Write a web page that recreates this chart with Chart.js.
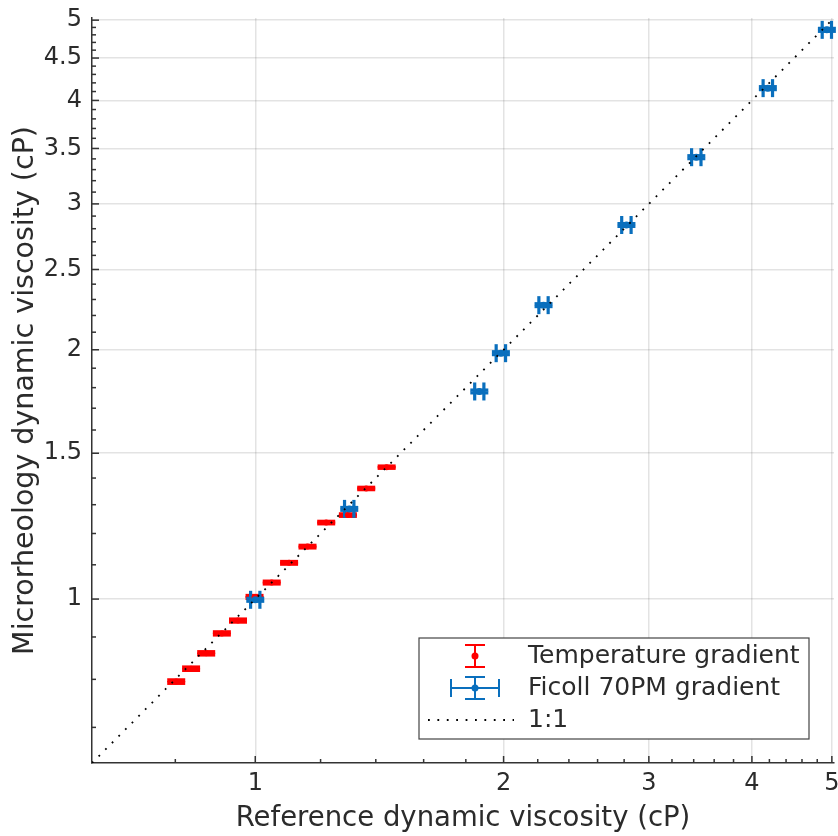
<!DOCTYPE html>
<html>
<head>
<meta charset="utf-8">
<script src="https://cdn.jsdelivr.net/npm/chart.js@4"></script>
<style>
html, body { margin: 0; padding: 0; background: #fff; }
</style>
</head>
<body>
<canvas id="myChart" width="838" height="836"></canvas>
<script>
// temperature gradient series (red)
var tempX = [0.802, 0.836, 0.872, 0.911, 0.953, 0.998, 1.047, 1.099, 1.157, 1.219, 1.295, 1.363, 1.443];
var tempY = [0.795, 0.824, 0.860, 0.909, 0.942, 1.006, 1.047, 1.106, 1.157, 1.237, 1.263, 1.360, 1.443];
var tempYErr = [0.003, 0.003, 0.003, 0.003, 0.003, 0.003, 0.003, 0.003, 0.003, 0.003, 0.003, 0.003, 0.003];

// Ficoll 70PM gradient series (blue)
var ficollX = [1.000, 1.300, 1.869, 1.985, 2.236, 2.818, 3.425, 4.182, 4.931];
var ficollY = [0.998, 1.285, 1.781, 1.981, 2.264, 2.829, 3.416, 4.139, 4.867];
var ficollXErr = [0.013, 0.017, 0.024, 0.026, 0.029, 0.037, 0.045, 0.055, 0.064];
var ficollYErr = [0.004, 0.005, 0.007, 0.008, 0.009, 0.011, 0.014, 0.017, 0.020];

// 1:1 line end points
var unityX = [0.634, 5.03];

// axis ranges and ticks
var axisMin = 0.634;
var axisMax = 5.03;
var xTicks = [1, 2, 3, 4, 5];
var yTicks = [1, 1.5, 2, 2.5, 3, 3.5, 4, 4.5, 5];
var xMinor = [0.8, 1.2, 1.4, 1.6, 1.8, 2.2, 2.4, 2.6, 2.8, 3.2, 3.4, 3.6, 3.8, 4.2, 4.4, 4.6, 4.8];
var yMinor = [0.7, 0.8, 0.9, 1.1, 1.2, 1.3, 1.4, 1.6, 1.7, 1.8, 1.9, 2.1, 2.2, 2.3, 2.4, 2.6, 2.7, 2.8, 2.9,
              3.1, 3.2, 3.3, 3.4, 3.6, 3.7, 3.8, 3.9, 4.1, 4.2, 4.3, 4.4, 4.6, 4.7, 4.8, 4.9];

var RED = '#ff0000';
var BLUE = '#0a6fbd';
var TEXT = '#2b2b2b';
var FONT = 'DejaVu Sans';

function ToPoints (_xs, _ys)
{
    var pts = [];
    for (var i = 0; i < _xs.length; i++)
    {
        pts.push({ x: _xs[i], y: _ys[i] });
    }
    return pts;
}

function Line (ctx, x1, y1, x2, y2)
{
    ctx.beginPath();
    ctx.moveTo(x1, y1);
    ctx.lineTo(x2, y2);
    ctx.stroke();
}

const CAP = 9;

// error bars drawn under the markers
const errorBars =
{
    id: 'errorBars',
    beforeDatasetsDraw (chart)
    {
        const ctx = chart.ctx;
        const xs = chart.scales.x;
        const ys = chart.scales.y;
        chart.data.datasets.forEach(ds => {
            if (!ds.errX && !ds.errY) return;
            ctx.save();
            ctx.strokeStyle = ds.borderColor;
            ctx.lineWidth = ds.errWidth;
            ds.data.forEach((p, i) => {
                const px = xs.getPixelForValue(p.x);
                const py = ys.getPixelForValue(p.y);
                if (ds.errY)
                {
                    const y1 = ys.getPixelForValue(p.y - ds.errY[i]);
                    const y2 = ys.getPixelForValue(p.y + ds.errY[i]);
                    Line(ctx, px, y1, px, y2);
                    Line(ctx, px - CAP, y1, px + CAP, y1);
                    Line(ctx, px - CAP, y2, px + CAP, y2);
                }
                if (ds.errX)
                {
                    const x1 = xs.getPixelForValue(p.x - ds.errX[i]);
                    const x2 = xs.getPixelForValue(p.x + ds.errX[i]);
                    Line(ctx, x1, py, x2, py);
                    Line(ctx, x1, py - CAP, x1, py + CAP);
                    Line(ctx, x2, py - CAP, x2, py + CAP);
                }
            });
            ctx.restore();
        });
    }
};

// inward tick marks + legend box
const decorations =
{
    id: 'decorations',
    afterDraw (chart)
    {
        const ctx = chart.ctx;
        const xs = chart.scales.x;
        const ys = chart.scales.y;
        const area = chart.chartArea;
        ctx.save();
        ctx.strokeStyle = '#333';
        ctx.lineWidth = 1.5;
        xTicks.forEach(v => { const p = xs.getPixelForValue(v); Line(ctx, p, area.bottom, p, area.bottom - 7); });
        xMinor.forEach(v => { const p = xs.getPixelForValue(v); Line(ctx, p, area.bottom, p, area.bottom - 4); });
        yTicks.forEach(v => { const p = ys.getPixelForValue(v); Line(ctx, area.left, p, area.left + 7, p); });
        yMinor.forEach(v => { const p = ys.getPixelForValue(v); Line(ctx, area.left, p, area.left + 4, p); });

        // legend
        const bx = 419, by = 638, bw = 390, bh = 101;
        ctx.fillStyle = '#fff';
        ctx.fillRect(bx, by, bw, bh);
        ctx.strokeStyle = '#444';
        ctx.lineWidth = 1.2;
        ctx.strokeRect(bx, by, bw, bh);

        const ix = 475;
        const rows = [656, 688, 720];
        const ds = chart.data.datasets;

        // temperature icon
        ctx.strokeStyle = RED;
        ctx.fillStyle = RED;
        ctx.lineWidth = 2;
        Line(ctx, ix, rows[0] - 11, ix, rows[0] + 11);
        Line(ctx, ix - 10, rows[0] - 11, ix + 10, rows[0] - 11);
        Line(ctx, ix - 10, rows[0] + 11, ix + 10, rows[0] + 11);
        ctx.beginPath(); ctx.arc(ix, rows[0], 3.5, 0, Math.PI * 2); ctx.fill();

        // ficoll icon
        ctx.strokeStyle = BLUE;
        ctx.fillStyle = BLUE;
        Line(ctx, ix, rows[1] - 11, ix, rows[1] + 11);
        Line(ctx, ix - 10, rows[1] - 11, ix + 10, rows[1] - 11);
        Line(ctx, ix - 10, rows[1] + 11, ix + 10, rows[1] + 11);
        Line(ctx, ix - 24, rows[1], ix + 24, rows[1]);
        Line(ctx, ix - 24, rows[1] - 9, ix - 24, rows[1] + 9);
        Line(ctx, ix + 24, rows[1] - 9, ix + 24, rows[1] + 9);
        ctx.beginPath(); ctx.arc(ix, rows[1], 3.5, 0, Math.PI * 2); ctx.fill();

        // 1:1 icon
        ctx.strokeStyle = '#000';
        ctx.lineWidth = 1.8;
        ctx.setLineDash([1.8, 7.6]);
        Line(ctx, 428, rows[2], 514, rows[2]);
        ctx.setLineDash([]);

        ctx.fillStyle = TEXT;
        ctx.font = '25px "' + FONT + '"';
        ctx.textBaseline = 'middle';
        ctx.textAlign = 'left';
        ctx.fillText(ds[1].label, 528, rows[0]);
        ctx.fillText(ds[2].label, 528, rows[1]);
        ctx.fillText(ds[0].label, 528, rows[2]);
        ctx.restore();
    }
};

DrawGraph();

function DrawGraph ()
{
    const data =
    {
        datasets:
        [
            {
                type: 'line',
                label: '1:1',
                data: ToPoints(unityX, unityX),
                borderColor: '#000',
                borderWidth: 1.8,
                borderDash: [1.8, 7.6],
                pointRadius: 0,
                fill: false,
                order: 0
            },
            {
                type: 'scatter',
                label: 'Temperature gradient',
                data: ToPoints(tempX, tempY),
                errY: tempYErr,
                errWidth: 4,
                borderColor: RED,
                backgroundColor: RED,
                pointRadius: 3,
                pointBorderWidth: 0,
                order: 2
            },
            {
                type: 'scatter',
                label: 'Ficoll 70PM gradient',
                data: ToPoints(ficollX, ficollY),
                errX: ficollXErr,
                errY: ficollYErr,
                errWidth: 3.2,
                borderColor: BLUE,
                backgroundColor: BLUE,
                pointRadius: 3.5,
                pointBorderWidth: 0,
                order: 1
            }
        ]
    };

    const gridStyle = { color: 'rgba(0,0,0,0.11)', lineWidth: 1.5, drawTicks: false };
    const borderStyle = { display: true, color: '#333', width: 1.5 };

    const config =
    {
        type: 'scatter',
        data: data,
        options:
        {
            responsive: false,
            animation: false,
            devicePixelRatio: 1,
            layout: { padding: { top: 18, right: 3.5, left: 0, bottom: 0 } },
            plugins:
            {
                legend: { display: false },
                tooltip: { enabled: false }
            },
            scales:
            {
                x:
                {
                    type: 'logarithmic',
                    bounds: 'data',
                    min: axisMin,
                    max: axisMax,
                    grid: gridStyle,
                    border: borderStyle,
                    afterBuildTicks: (scale) => { scale.ticks = xTicks.map(v => ({ value: v })); },
                    afterFit: (scale) => { scale.height = 73; scale.paddingLeft = 0; scale.paddingRight = 0; },
                    ticks:
                    {
                        color: TEXT,
                        padding: 6,
                        maxRotation: 0,
                        font: { family: FONT, size: 24 },
                        callback: (v) => String(v)
                    },
                    title:
                    {
                        display: true,
                        text: 'Reference dynamic viscosity (cP)',
                        color: TEXT,
                        font: { family: FONT, size: 27.5 },
                        padding: { top: 0, bottom: 0.5 }
                    }
                },
                y:
                {
                    type: 'logarithmic',
                    bounds: 'data',
                    min: axisMin,
                    max: axisMax,
                    grid: gridStyle,
                    border: borderStyle,
                    afterBuildTicks: (scale) => { scale.ticks = yTicks.map(v => ({ value: v })); },
                    afterFit: (scale) => { scale.width = 92; scale.paddingTop = 0; scale.paddingBottom = 0; },
                    ticks:
                    {
                        color: TEXT,
                        padding: 10,
                        font: { family: FONT, size: 24 },
                        callback: (v) => String(v)
                    },
                    title:
                    {
                        display: true,
                        text: 'Microrheology dynamic viscosity (cP)',
                        color: TEXT,
                        font: { family: FONT, size: 28.5 },
                        padding: { top: 8, bottom: 0 }
                    }
                }
            }
        },
        plugins: [errorBars, decorations]
    };

    const ctx = document.getElementById('myChart').getContext('2d');
    if (ctx) {
        const myChart = new Chart(ctx, config);
    } else {
        console.error('Element with ID "myChart" not found.');
    }
}
</script>
</body>
</html>
